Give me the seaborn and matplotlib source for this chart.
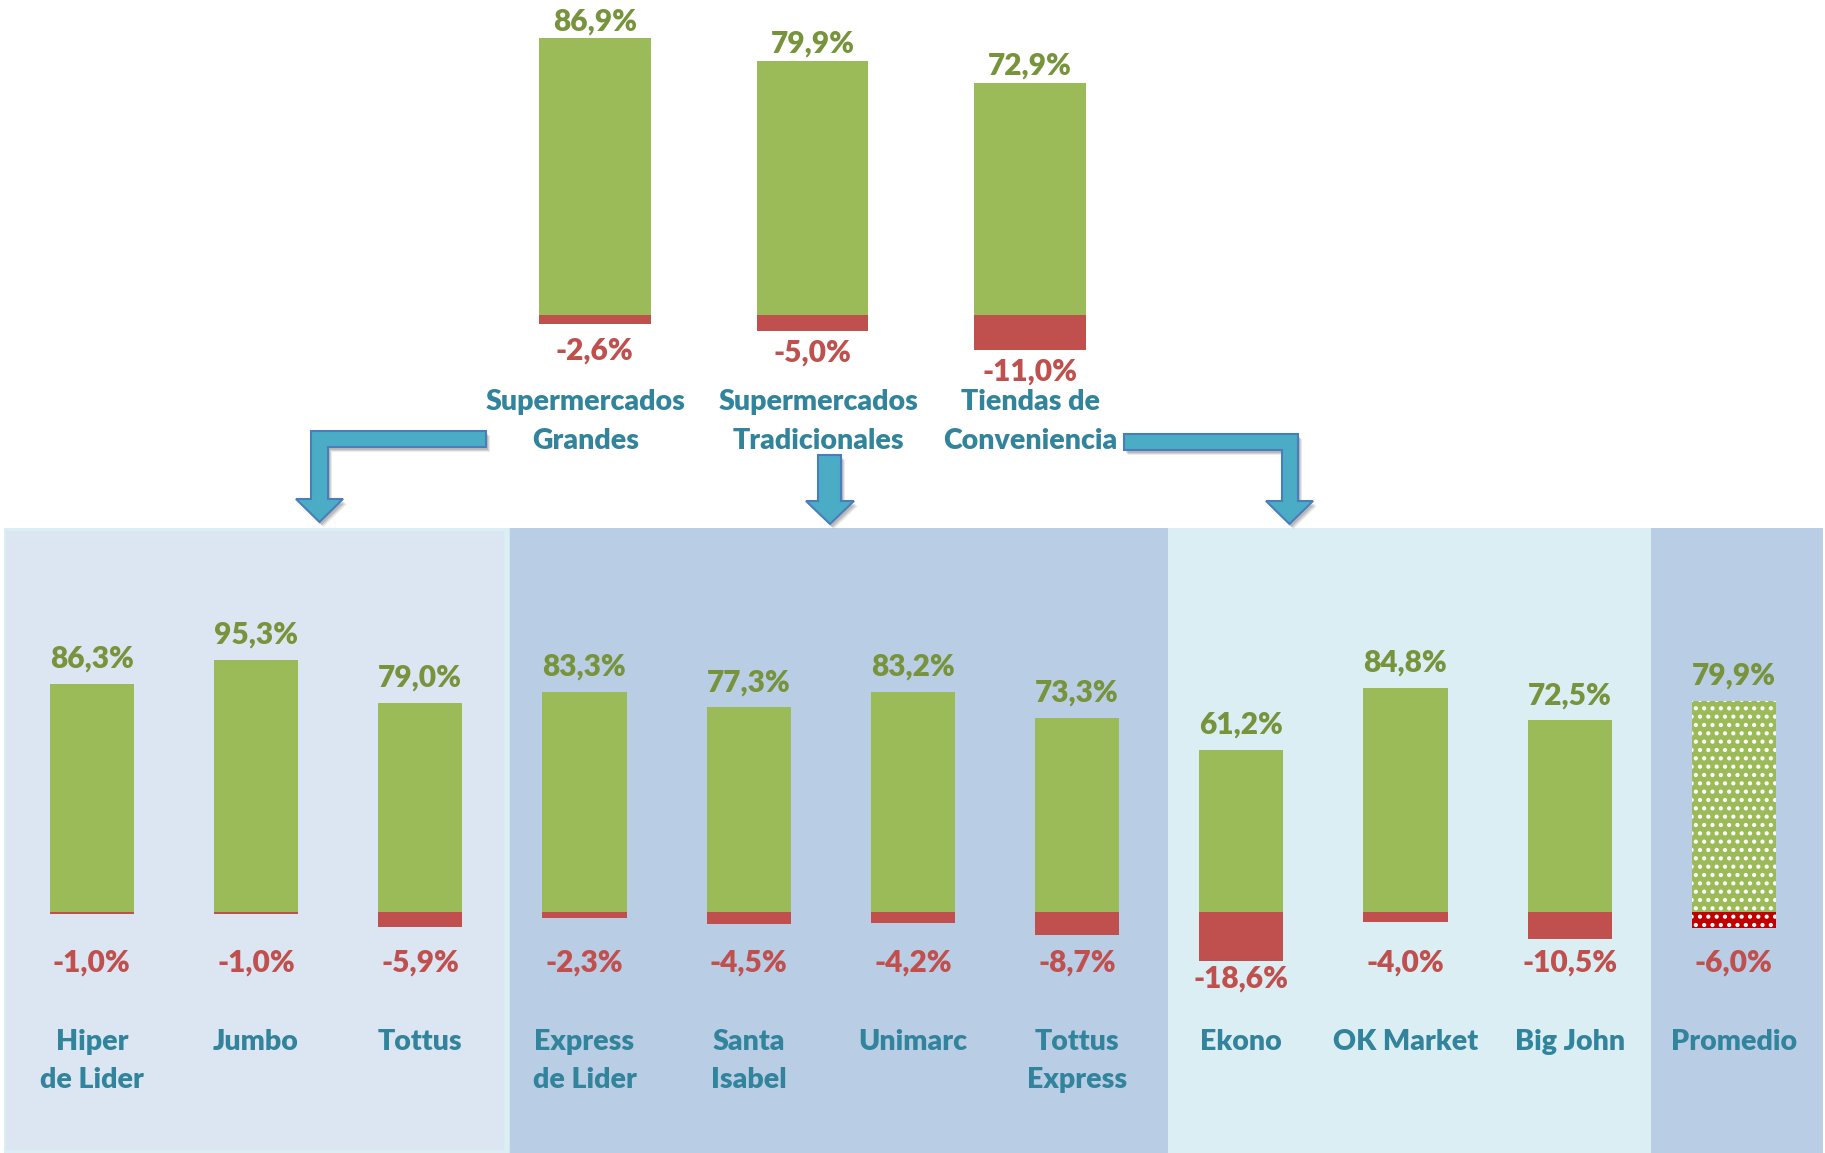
import matplotlib
matplotlib.use("Agg")
import matplotlib.pyplot as plt
from matplotlib.patches import Polygon, Rectangle
import seaborn as sns
import pandas as pd

# ---------------- data ----------------
top_cats = ["Supermercados\nGrandes", "Supermercados\nTradicionales", "Tiendas de\nConveniencia"]
top_pos = [86.9, 79.9, 72.9]
top_neg = [-2.6, -5.0, -11.0]

cats = ["Hiper\nde Lider", "Jumbo", "Tottus", "Express\nde Lider", "Santa\nIsabel",
        "Unimarc", "Tottus\nExpress", "Ekono", "OK Market", "Big John", "Promedio"]
pos = [86.3, 95.3, 79.0, 83.3, 77.3, 83.2, 73.3, 61.2, 84.8, 72.5, 79.9]
neg = [-1.0, -1.0, -5.9, -2.3, -4.5, -4.2, -8.7, -18.6, -4.0, -10.5, -6.0]

# ---------------- style ----------------
GREEN = "#9BBB59"
RED = "#C0504D"
GREEN_TXT = "#77933C"
RED_TXT = "#C0504D"
TEAL = "#31849B"
FONT = ["Lato", "DejaVu Sans"]
FS = 20.5      # category labels
FSN = 21.5     # value labels
WT = "heavy"

plt.rcParams["font.family"] = FONT
plt.rcParams["hatch.linewidth"] = 1.8

W, H = 1825, 1153
fig = plt.figure(figsize=(W / 100, H / 100), dpi=100)
fig.patch.set_facecolor("white")


def pct(v):
    return f"{v:.1f}%".replace(".", ",")


# ---------------- bottom chart ----------------
ax = fig.add_axes([3.5 / W, 0, (1823 - 3.5) / W, (H - 528) / H])
ax.set_xlim(-0.538, 10.543)
ax.set_ylim(-91.3, 145.2)

panels = [(-0.538, 2.531, "#DCE6F2"), (2.531, 6.553, "#B9CDE5"),
          (6.553, 9.495, "#DBEEF4"), (9.495, 10.543, "#B9CDE5")]
for i, (a, b, c) in enumerate(panels):
    ax.axvspan(a, b, color=c, zorder=0, lw=0)
ax.add_patch(Rectangle((-0.538, -91.3), 2.531 + 0.538, 145.2 + 91.3,
                       facecolor="none", edgecolor="#DAEEF3", lw=4, zorder=0.5))

df = pd.DataFrame({"cat": cats, "pos": pos, "neg": neg})
sns.barplot(data=df, x="cat", y="pos", color=GREEN, saturation=1, width=0.513,
            errorbar=None, ax=ax, linewidth=0, zorder=2)
sns.barplot(data=df, x="cat", y="neg", color=RED, saturation=1, width=0.513,
            errorbar=None, ax=ax, linewidth=0, zorder=2)
ax.set_xlim(-0.538, 10.543)
ax.set_ylim(-91.3, 145.2)

# Promedio: dotted pattern
gbar = ax.containers[0][-1]
rbar = ax.containers[1][-1]
gbar.set_hatch("..")
gbar.set_edgecolor("white")
gbar.set_linewidth(0)
rbar.set_facecolor("#C00000")
rbar.set_hatch("..")
rbar.set_edgecolor("white")
rbar.set_linewidth(0)

for i, (c, p, n) in enumerate(zip(cats, pos, neg)):
    ax.annotate(pct(p), xy=(i, p), xytext=(0, 16), textcoords="offset pixels",
                ha="center", va="baseline", fontsize=FSN, fontweight=WT,
                color=GREEN_TXT, family=FONT)
    ax.annotate(pct(n), xy=(i, min(n, -12.3)), xytext=(0, -18), textcoords="offset pixels",
                ha="center", va="center", fontsize=FSN, fontweight=WT,
                color=RED_TXT, family=FONT)
    ax.annotate(c, xy=(i, 0), xytext=(0, -117), textcoords="offset pixels",
                ha="center", va="top", fontsize=FS, fontweight=WT,
                color=TEAL, family=FONT, linespacing=1.6)
ax.set_axis_off()

# ---------------- top chart ----------------
axt = fig.add_axes([464.2 / W, (H - 500) / H, 696.5 / W, 500 / H])
tdf = pd.DataFrame({"cat": top_cats, "pos": top_pos, "neg": top_neg})
sns.barplot(data=tdf, x="cat", y="pos", color=GREEN, saturation=1, width=0.513,
            errorbar=None, ax=axt, linewidth=0)
sns.barplot(data=tdf, x="cat", y="neg", color=RED, saturation=1, width=0.513,
            errorbar=None, ax=axt, linewidth=0)
axt.set_xlim(-0.6, 2.6)
axt.set_ylim(-57.9, 98.9)
top_dx = [-9, 6, 0]
for i, (c, p, n) in enumerate(zip(top_cats, top_pos, top_neg)):
    axt.annotate(pct(p), xy=(i, p), xytext=(0, 8), textcoords="offset pixels",
                 ha="center", va="baseline", fontsize=FSN, fontweight=WT,
                 color=GREEN_TXT, family=FONT)
    axt.annotate(pct(n), xy=(i, min(n, -4.3)), xytext=(0, -21), textcoords="offset pixels",
                 ha="center", va="center", fontsize=FSN, fontweight=WT,
                 color=RED_TXT, family=FONT)
    axt.annotate(c, xy=(i, 0), xytext=(top_dx[i], -74), textcoords="offset pixels",
                 ha="center", va="top", fontsize=FS, fontweight=WT,
                 color=TEAL, family=FONT, linespacing=1.6)
axt.set_axis_off()

# ---------------- connector arrows (figure pixels, y down) ----------------
arrows = [
    [(486, 431), (311, 431), (311, 499), (296, 499), (319.5, 522), (343, 499),
     (328, 499), (328, 447), (486, 447)],
    [(818, 455), (841, 455), (841, 501), (854, 501), (830, 524), (806, 501), (818, 501)],
    [(1124, 434), (1298, 434), (1298, 501), (1313, 501), (1289.5, 524), (1266, 501),
     (1282, 501), (1282, 450), (1124, 450)],
]


def to_fig(pts, dx=0, dy=0):
    return [((x + dx) / W, 1 - (y + dy) / H) for x, y in pts]


for pts in arrows:
    for k, (dx, dy, a) in enumerate([(4, 5, 0.08), (3, 4, 0.10), (2, 3, 0.12)]):
        fig.add_artist(Polygon(to_fig(pts, dx, dy), closed=True, facecolor="black",
                               edgecolor="none", alpha=a, transform=fig.transFigure,
                               zorder=3))
    fig.add_artist(Polygon(to_fig(pts), closed=True, facecolor="#4BACC6",
                           edgecolor="#4A7EBB", lw=1.5, transform=fig.transFigure,
                           zorder=4))

fig.savefig("out.png", dpi=100, facecolor="white")
